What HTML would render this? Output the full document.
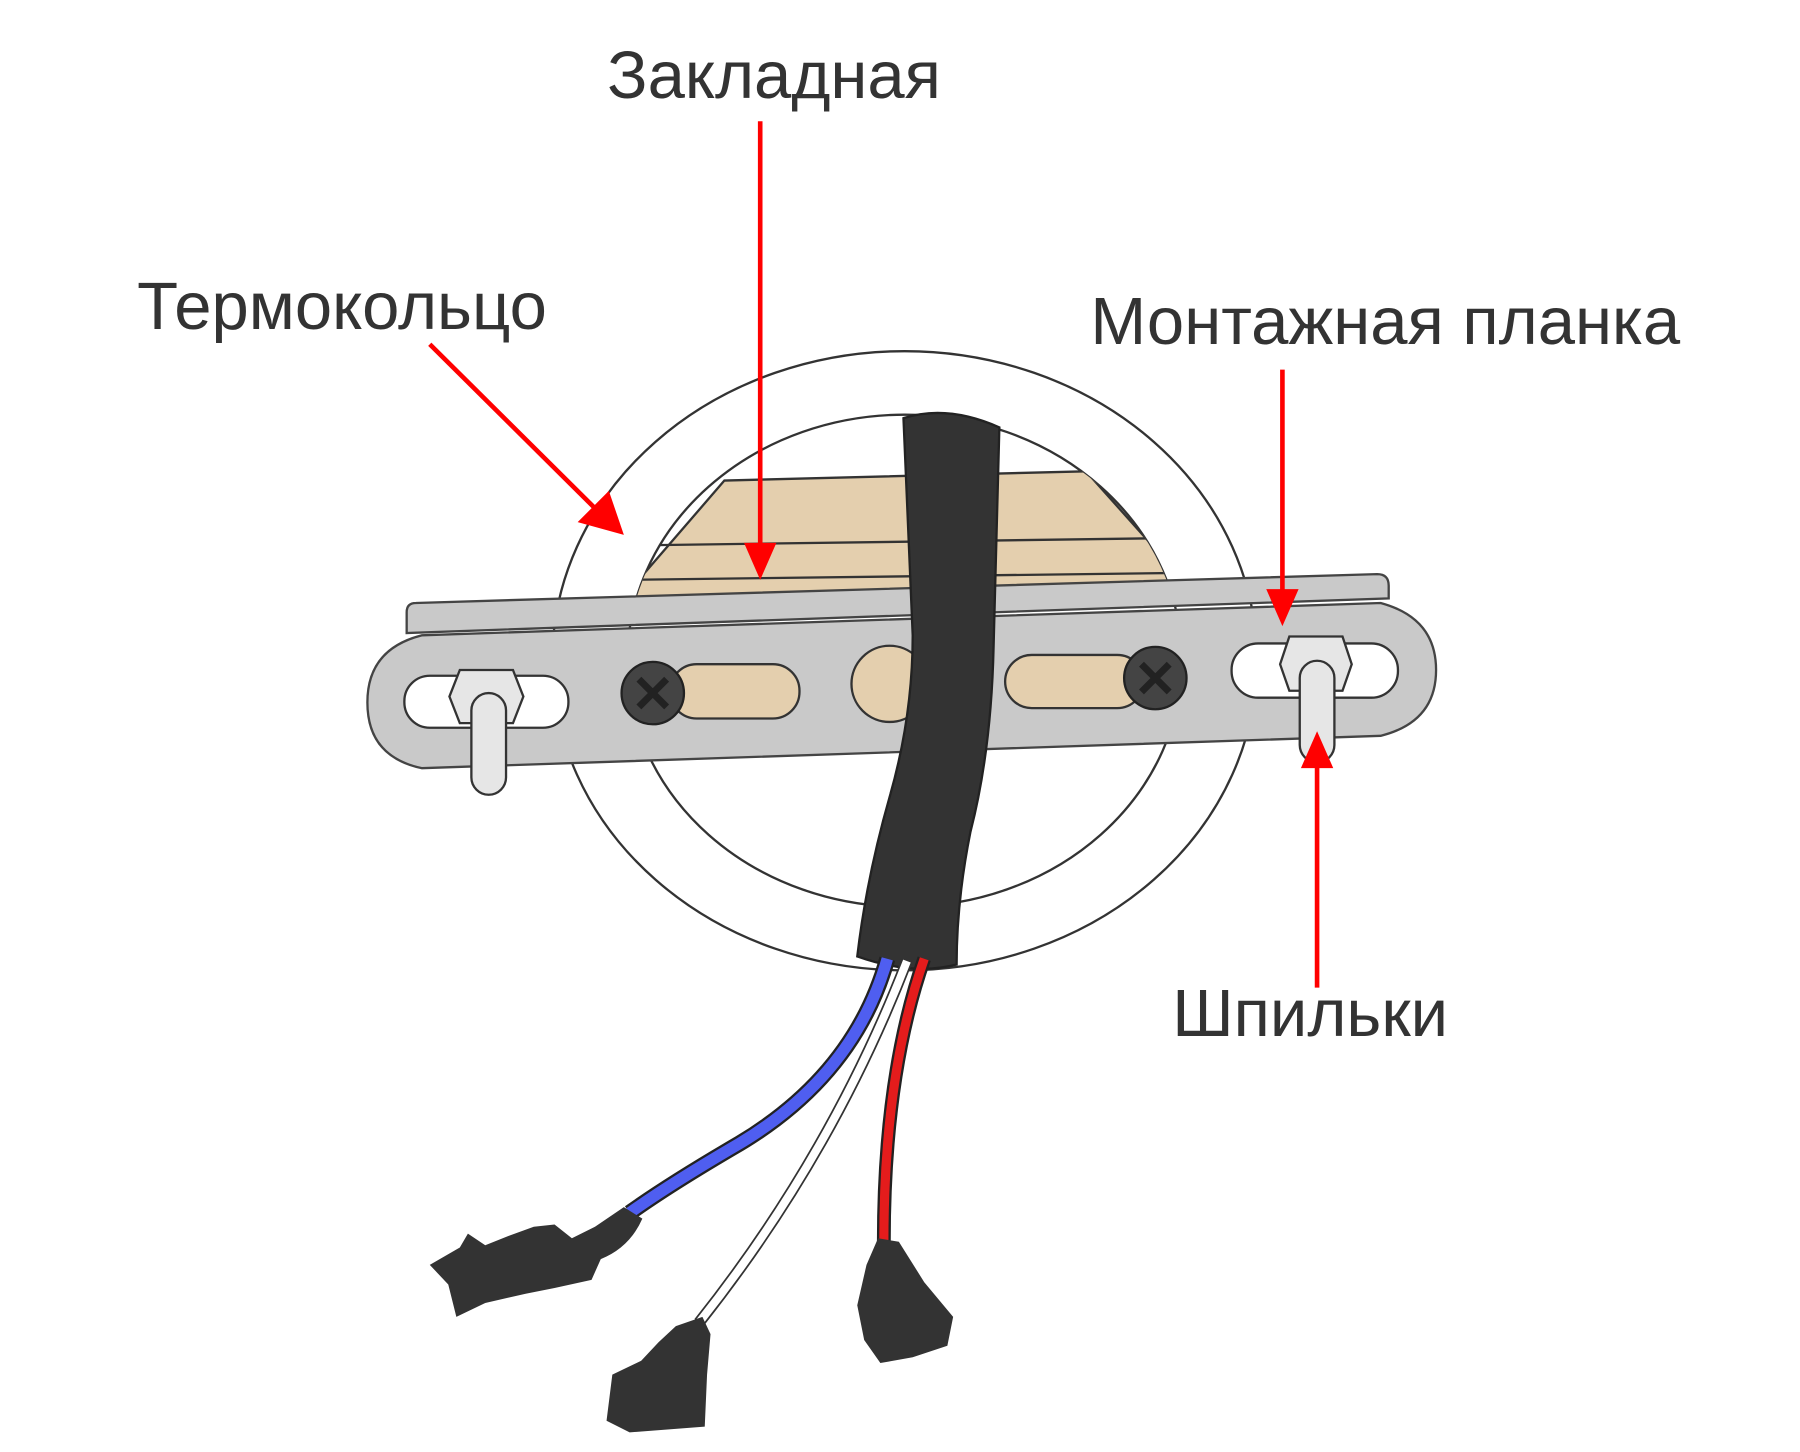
<!DOCTYPE html>
<html><head><meta charset="utf-8"><style>
html,body{margin:0;padding:0;background:#fff;}
svg{display:block}
text{font-family:"Liberation Sans",sans-serif;fill:#333;}
</style></head><body>
<svg width="1800" height="1452" viewBox="0 0 1558 1257" preserveAspectRatio="none" xmlns="http://www.w3.org/2000/svg">
<defs>
<clipPath id="inner"><ellipse cx="783" cy="572" rx="240" ry="213"/></clipPath>
</defs>
<rect width="1558" height="1257" fill="#fff"/>
<ellipse cx="783" cy="572" rx="305" ry="268" fill="#fff" stroke="#333" stroke-width="2"/>
<ellipse cx="783" cy="572" rx="240" ry="213" fill="#fff" stroke="#333" stroke-width="2"/>
<g clip-path="url(#inner)">
<polygon points="520,540 627,416 940,408 1040,520" fill="#e4cfae" stroke="#333" stroke-width="2"/>
<line x1="560" y1="472" x2="1000" y2="466" stroke="#333" stroke-width="2"/>
<line x1="540" y1="502" x2="1020" y2="496" stroke="#333" stroke-width="2"/>
</g>
<path d="M360,522 L1192,497 Q1202,497 1202,507 L1202,518 L352,548 L352,530 Q352,522 360,522 Z" fill="#c9c9c9" stroke="#444" stroke-width="2"/>
<path d="M365,550 L1195,522 Q1243,535 1243,580 Q1243,625 1195,637 L365,665 Q318,655 318,608 Q318,562 365,550 Z" fill="#c9c9c9" stroke="#444" stroke-width="2"/>
<rect x="350" y="585" width="142" height="45" rx="22" fill="#fff" stroke="#333" stroke-width="2"/>
<rect x="1066" y="557" width="144" height="47" rx="23" fill="#fff" stroke="#333" stroke-width="2"/>
<rect x="580" y="575" width="112" height="47" rx="23" fill="#e4cfae" stroke="#333" stroke-width="2"/>
<rect x="870" y="567" width="120" height="46" rx="23" fill="#e4cfae" stroke="#333" stroke-width="2"/>
<ellipse cx="770" cy="592" rx="33" ry="33" fill="#e4cfae" stroke="#333" stroke-width="2"/>
<circle cx="565" cy="600" r="27" fill="#444" stroke="#222" stroke-width="2"/>
<path d="M553,588 L577,612 M577,588 L553,612" stroke="#222" stroke-width="6"/>
<circle cx="1000" cy="587" r="27" fill="#444" stroke="#222" stroke-width="2"/>
<path d="M988,575 L1012,599 M1012,575 L988,599" stroke="#222" stroke-width="6"/>
<polygon points="398,580 444,580 453,603 444,626 398,626 389,603" fill="#e6e6e6" stroke="#333" stroke-width="2"/>
<rect x="408" y="600" width="30" height="88" rx="15" fill="#e6e6e6" stroke="#333" stroke-width="2"/>
<polygon points="1116,551 1162,551 1170,575 1162,598 1116,598 1108,575" fill="#e6e6e6" stroke="#333" stroke-width="2"/>
<rect x="1125" y="572" width="30" height="88" rx="15" fill="#e6e6e6" stroke="#333" stroke-width="2"/>
<path d="M782,362 Q820,350 865,370 L860,560 Q858,650 840,720 Q828,780 828,835 Q790,845 742,828 Q750,760 770,690 Q790,620 790,550 Z" fill="#333" stroke="#222" stroke-width="2"/>
<path d="M768,830 Q740,930 640,990 Q580,1025 545,1050" fill="none" stroke="#222" stroke-width="14"/>
<path d="M768,830 Q740,930 640,990 Q580,1025 545,1050" fill="none" stroke="#4f5ef0" stroke-width="10"/>
<path d="M785,832 Q720,1000 605,1145" fill="none" stroke="#333" stroke-width="10"/>
<path d="M785,832 Q720,1000 605,1145" fill="none" stroke="#fff" stroke-width="7"/>
<path d="M800,830 Q765,930 765,1075" fill="none" stroke="#222" stroke-width="12"/>
<path d="M800,830 Q765,930 765,1075" fill="none" stroke="#e41c1c" stroke-width="8"/>
<path d="M540,1045 L556,1055 Q545,1080 520,1090 L512,1108 L480,1115 L455,1120 L420,1128 L395,1140 L388,1112 L372,1095 L398,1080 L405,1068 L420,1078 L440,1070 L462,1062 L480,1060 L495,1072 L515,1062 Z" fill="#333"/>
<path d="M608,1140 L585,1148 L570,1162 L555,1178 L530,1190 L525,1230 L545,1240 L610,1235 L612,1190 L615,1155 Z" fill="#333"/>
<path d="M760,1072 L778,1075 L800,1110 L825,1140 L820,1165 L790,1175 L762,1180 L748,1160 L742,1130 L750,1095 Z" fill="#333"/>
<g stroke="#f00" stroke-width="4" fill="#f00">
<line x1="658" y1="105" x2="658" y2="475"/>
<polygon points="644,470 672,470 658,502" stroke="none"/>
<line x1="372" y1="298" x2="515" y2="440"/>
<polygon points="500,452 527,425 540,463" stroke="none"/>
<line x1="1110" y1="320" x2="1110" y2="515"/>
<polygon points="1096,510 1124,510 1110,542" stroke="none"/>
<line x1="1140" y1="855" x2="1140" y2="660"/>
<polygon points="1126,665 1154,665 1140,633" stroke="none"/>
</g>
<text x="670" y="85" font-size="58" text-anchor="middle">Закладная</text>
<text x="296" y="285" font-size="58" text-anchor="middle">Термокольцо</text>
<text x="1199" y="298" font-size="58" text-anchor="middle">Монтажная планка</text>
<text x="1134" y="897" font-size="58" text-anchor="middle">Шпильки</text>
</svg>
</body></html>
